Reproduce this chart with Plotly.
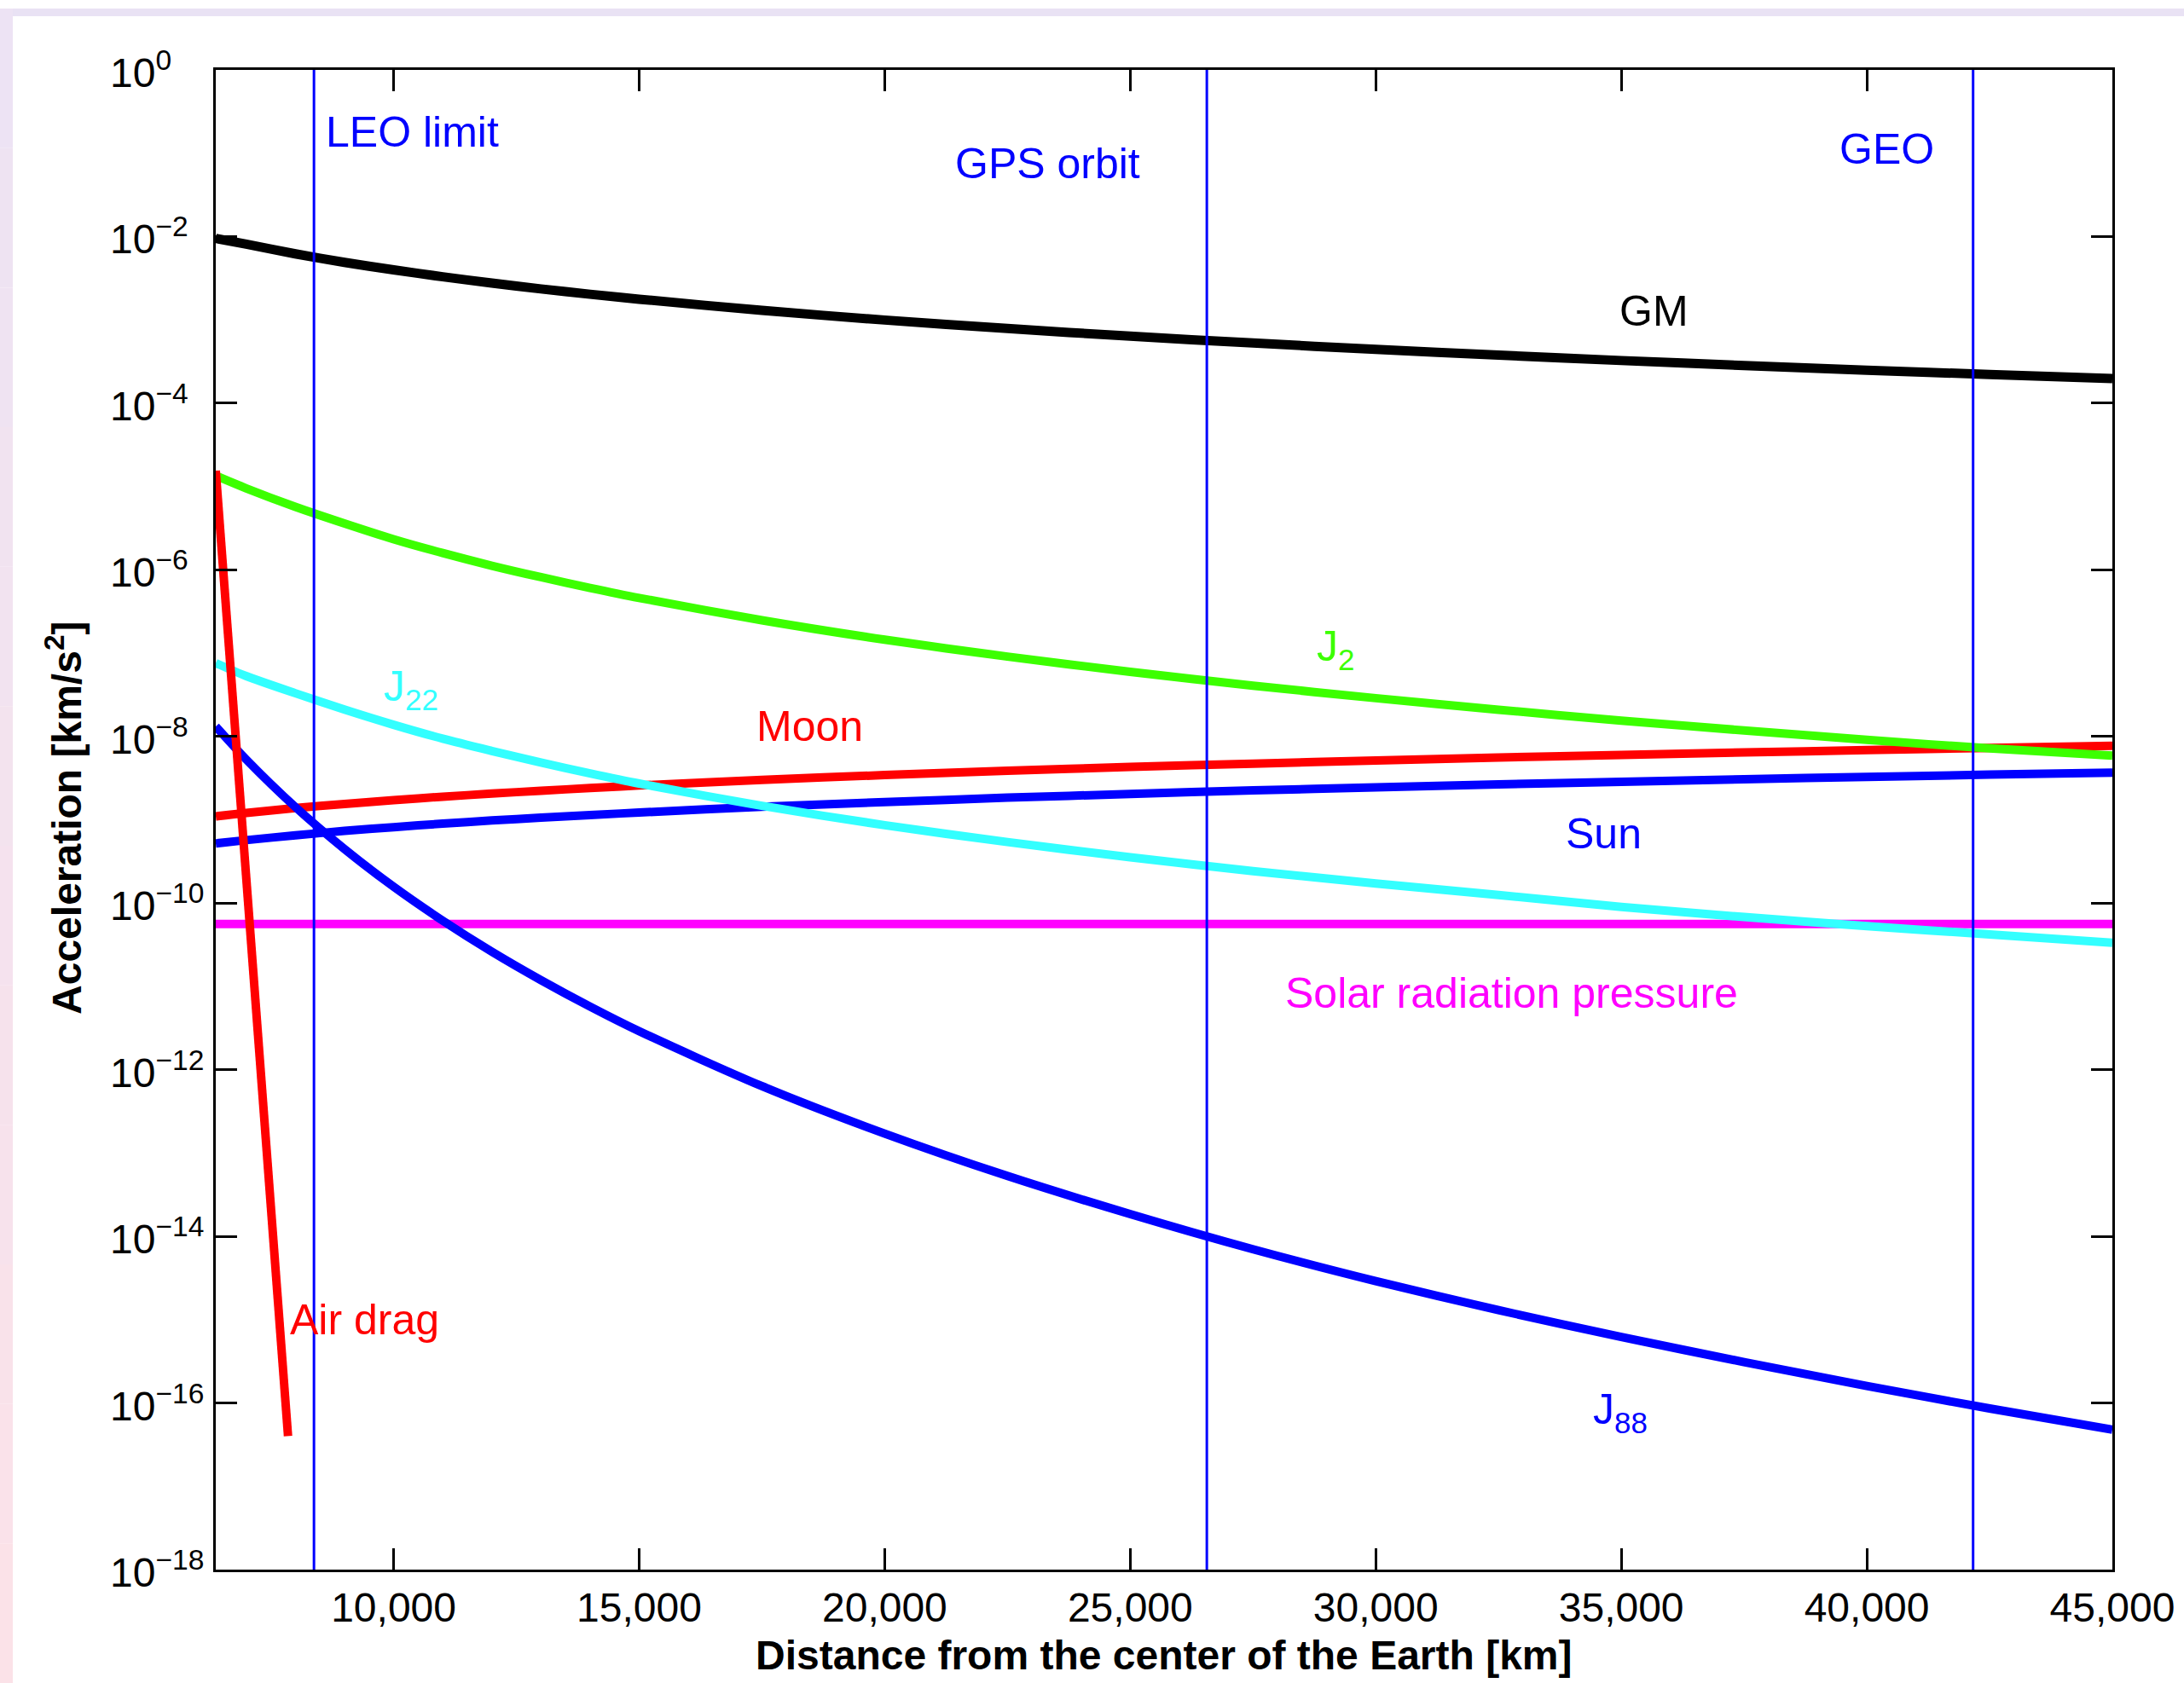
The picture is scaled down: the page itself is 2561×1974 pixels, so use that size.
import plotly.graph_objects as go

# ---------------- data ----------------
r_km = [6378, 7000, 8000, 9000, 10000, 11000, 12000, 13000, 14000, 15000, 17500, 20000,
        22500, 25000, 27500, 30000, 32500, 35000, 37500, 40000, 42500, 45000]

acc_gm   = [9.5e-3, 8.1e-3, 6.2e-3, 4.9e-3, 3.98e-3, 3.29e-3, 2.76e-3, 2.35e-3, 2.03e-3, 1.77e-3, 1.30e-3, 9.95e-4,
            7.87e-4, 6.37e-4, 5.27e-4, 4.42e-4, 3.77e-4, 3.25e-4, 2.83e-4, 2.49e-4, 2.21e-4, 1.97e-4]
acc_j2   = [1.35e-5, 9.5e-6, 5.7e-6, 3.6e-6, 2.33e-6, 1.59e-6, 1.12e-6, 8.16e-7, 6.07e-7, 4.6e-7, 2.48e-7, 1.45e-7,
            9.09e-8, 5.96e-8, 4.07e-8, 2.88e-8, 2.09e-8, 1.55e-8, 1.18e-8, 9.1e-9, 7.2e-9, 5.9e-9]
acc_j22  = [7.6e-8, 5.3e-8, 3.3e-8, 2.1e-8, 1.38e-8, 9.4e-9, 6.7e-9, 4.85e-9, 3.6e-9, 2.72e-9, 1.47e-9, 8.6e-10,
            5.4e-10, 3.55e-10, 2.42e-10, 1.72e-10, 1.25e-10, 9.0e-11, 6.8e-11, 5.3e-11, 4.2e-11, 3.35e-11]
acc_moon = [1.1e-9, 1.21e-9, 1.38e-9, 1.55e-9, 1.72e-9, 1.89e-9, 2.06e-9, 2.23e-9, 2.40e-9, 2.58e-9, 3.01e-9, 3.44e-9,
            3.87e-9, 4.3e-9, 4.72e-9, 5.15e-9, 5.58e-9, 6.0e-9, 6.43e-9, 6.85e-9, 7.28e-9, 7.7e-9]
acc_sun  = [5.2e-10, 5.7e-10, 6.5e-10, 7.35e-10, 8.15e-10, 8.98e-10, 9.8e-10, 1.06e-9, 1.14e-9, 1.22e-9, 1.43e-9, 1.63e-9,
            1.84e-9, 2.04e-9, 2.25e-9, 2.45e-9, 2.66e-9, 2.86e-9, 3.07e-9, 3.27e-9, 3.48e-9, 3.68e-9]
acc_j88  = [1.32e-8, 5.28e-9, 1.42e-9, 4.45e-10, 1.57e-10, 6.15e-11, 2.61e-11, 1.19e-11, 5.73e-12, 2.9e-12, 6.35e-13, 1.71e-13,
            5.3e-14, 1.85e-14, 7.0e-15, 2.9e-15, 1.3e-15, 6.2e-16, 3.1e-16, 1.6e-16, 8.6e-17, 4.8e-17]
acc_srp  = [5.6e-11] * len(r_km)

r_drag   = [6378, 7000, 7850]
acc_drag = [1.55e-5, 2.0e-10, 4.0e-17]

orbit_names = ["LEO limit", "GPS orbit", "GEO"]
orbit_r     = [8378, 26560, 42164]

x_ticks      = [10000, 15000, 20000, 25000, 30000, 35000, 40000, 45000]
x_tick_text  = ["10,000", "15,000", "20,000", "25,000", "30,000", "35,000", "40,000", "45,000"]
y_exponents  = [0, -2, -4, -6, -8, -10, -12, -14, -16, -18]

# ---------------- style ----------------
FONT = "Liberation Sans, Arial, Helvetica, sans-serif"
BLACK, GREEN, CYAN, RED, BLUE, MAGENTA = "#000000", "#3CFF00", "#33FFFF", "#FF0000", "#0000FF", "#FF00FF"

fig = go.Figure()

def add_curve(x, y, color, width=10):
    fig.add_trace(go.Scatter(x=x, y=y, mode="lines",
                             line=dict(color=color, width=width, shape="spline", smoothing=0.8),
                             showlegend=False, hoverinfo="skip"))

add_curve(r_km, acc_gm, BLACK, 11)
add_curve(r_km, acc_moon, RED)
add_curve(r_km, acc_sun, BLUE)
add_curve(r_km, acc_srp, MAGENTA)
add_curve(r_km, acc_j2, GREEN)
add_curve(r_km, acc_j22, CYAN)
add_curve(r_km, acc_j88, BLUE)
fig.add_trace(go.Scatter(x=r_drag, y=acc_drag, mode="lines", line=dict(color=RED, width=10),
                         showlegend=False, hoverinfo="skip"))

for xr in orbit_r:
    fig.add_vline(x=xr, line=dict(color=BLUE, width=3), layer="above")

# ---------------- labels ----------------
def label(text, x, logy, color, anchor="center"):
    fig.add_annotation(x=x, y=logy, xref="x", yref="y", text=text, showarrow=False,
                       xanchor=anchor, yanchor="middle",
                       font=dict(family=FONT, size=50, color=color))

label(orbit_names[0], 8583, -0.75, BLUE, "left")
label(orbit_names[1], 23310, -1.13, BLUE)
label(orbit_names[2], 40398, -0.955, BLUE)
label("GM", 35674, -2.90, BLACK)
label("J<sub>2</sub>", 29180, -6.95, GREEN)
label("J<sub>22</sub>", 10355, -7.43, CYAN)
label("Moon", 18482, -7.88, RED)
label("Sun", 34633, -9.17, BLUE)
label("Solar radiation pressure", 32757, -11.08, MAGENTA)
label("Air drag", 9400, -15.0, RED)
label("J<sub>88</sub>", 34980, -16.11, BLUE)

# y tick labels, left-aligned as in the reference
for e in y_exponents:
    sup = str(e) if e >= 0 else "\u2212" + str(-e)
    fig.add_annotation(x=-0.0567, y=e, xref="paper", yref="y", showarrow=False,
                       text="10<sup>%s</sup>" % sup, xanchor="left", yanchor="middle", yshift=0,
                       font=dict(family=FONT, size=48, color="black"))

# axis titles
fig.add_annotation(x=0.5, y=-0.057, xref="paper", yref="paper", showarrow=False,
                   text="<b>Distance from the center of the Earth [km]</b>",
                   xanchor="center", yanchor="middle",
                   font=dict(family=FONT, size=48, color="black"))
fig.add_annotation(x=-0.080, y=0.5015, xref="paper", yref="paper", showarrow=False,
                   text="<b>Acceleration [km/s<sup>2</sup>]</b>", textangle=-90,
                   xanchor="center", yanchor="middle",
                   font=dict(family=FONT, size=48, color="black"))

# decorative page edges seen in the reference
fig.add_shape(type="rect", xref="paper", yref="paper", x0=-0.11376, x1=1.0378, y0=1.0358, y1=1.0409,
              fillcolor="#E9E2F4", line=dict(width=0), layer="below")
n_seg = 12
top_c = (0xEC, 0xE3, 0xF4)
bot_c = (0xFC, 0xE2, 0xE8)
y_top, y_bot = 1.0409, -0.0756
for i in range(n_seg):
    t = (i + 0.5) / n_seg
    c = tuple(int(round(top_c[k] + (bot_c[k] - top_c[k]) * t)) for k in range(3))
    fig.add_shape(type="rect", xref="paper", yref="paper", x0=-0.11376, x1=-0.1070,
                  y0=y_top - (y_top - y_bot) * (i + 1) / n_seg, y1=y_top - (y_top - y_bot) * i / n_seg,
                  fillcolor="rgb(%d,%d,%d)" % c, line=dict(width=0), layer="below")

fig.update_xaxes(range=[6378, 45000], tickvals=x_ticks, ticktext=x_tick_text,
                 ticks="inside", ticklen=25, tickwidth=3, tickcolor="black",
                 showline=True, linecolor="black", linewidth=3, mirror="ticks",
                 showgrid=False, zeroline=False,
                 tickfont=dict(family=FONT, size=48, color="black"))
fig.update_yaxes(type="log", range=[-18, 0],
                 tickvals=[10.0 ** e for e in y_exponents], showticklabels=False,
                 ticks="inside", ticklen=25, tickwidth=3, tickcolor="black",
                 showline=True, linecolor="black", linewidth=3, mirror="ticks",
                 showgrid=False, zeroline=False)

fig.update_layout(width=2561, height=1974, autosize=False,
                  margin=dict(l=253, r=84, t=82, b=133),
                  paper_bgcolor="white", plot_bgcolor="white",
                  font=dict(family=FONT, color="black"))

fig.write_html("out.html")
